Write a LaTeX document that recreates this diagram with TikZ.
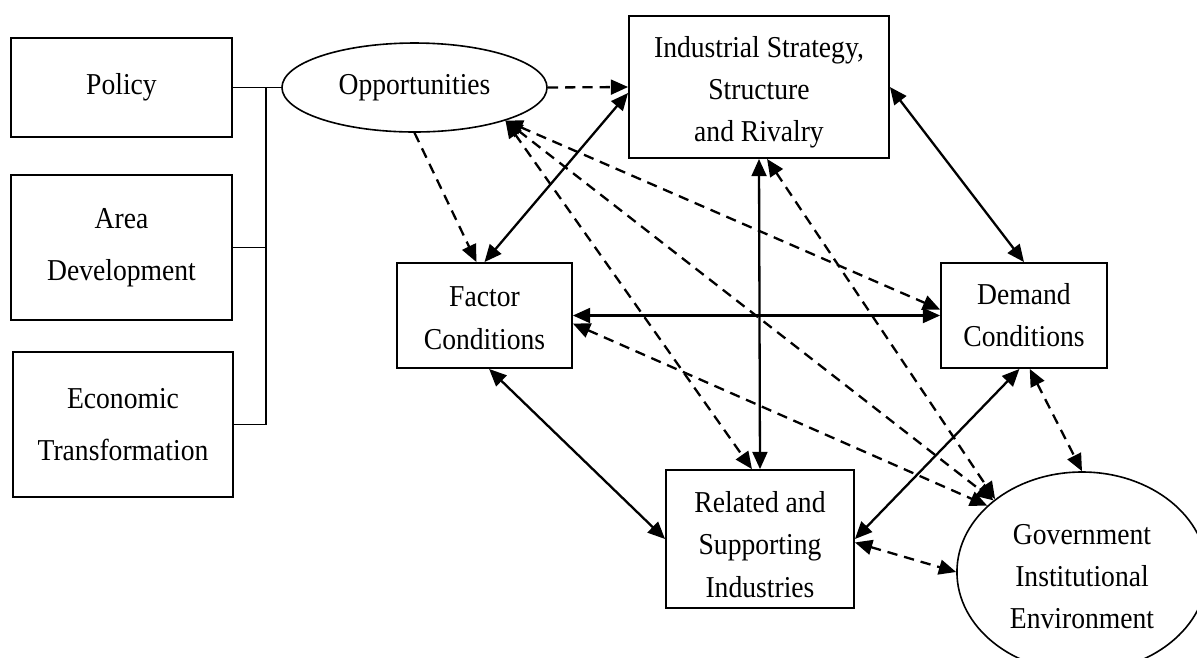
\documentclass[tikz,border=0pt]{standalone}
\usepackage{fontspec}
\setmainfont{Liberation Serif}[FakeStretch=0.91]
\usetikzlibrary{shapes.geometric, arrows.meta, positioning, calc}
\newcommand{\lowstrut}[1]{\rule{0pt}{#1}}

\begin{document}
\begin{tikzpicture}[x=0.435pt, y=-0.435pt,
  box/.style={draw, line width=0.8pt, inner sep=0pt, align=center, font=\fontsize{13.2}{18.3}\selectfont},
  sidebox/.style={box, minimum width=96pt, minimum height=63pt, font=\fontsize{13.2}{22.4}\selectfont},
  oval/.style={draw, ellipse, line width=0.7pt, inner sep=0pt, align=center, font=\fontsize{13.2}{18.3}\selectfont},
  link/.style={line width=1pt, {Triangle[length=7.5pt,width=6.5pt]}-{Triangle[length=7.5pt,width=6.5pt]}},
  dlink/.style={link, dash pattern=on 4.5pt off 3pt},
  dto/.style={line width=1pt, dash pattern=on 4.5pt off 3pt, -{Triangle[length=7.5pt,width=6.5pt]}}]
  \useasboundingbox (0,0) rectangle (1197,657);

  \node[box, minimum width=96pt, minimum height=43pt] (policy) at (121.5,87.5) {Policy};
  \node[sidebox] (area) at (121.5,247.5) {Area\\Development};
  \node[sidebox] (econ) at (123,424.5) {Economic\\Transformation};
  \node[oval, minimum width=115.3pt, minimum height=38.7pt] (opp) at (414.5,87.5) {Opportunities};
  \node[box, minimum width=113.1pt, minimum height=61.8pt] (ind) at (759,87) {\lowstrut{14pt}Industrial Strategy,\\Structure\\and Rivalry};
  \node[box, minimum width=76.1pt, minimum height=45.7pt] (fac) at (484.5,315.5) {\lowstrut{11pt}Factor\\Conditions};
  \node[box, minimum width=72.2pt, minimum height=45.7pt] (dem) at (1024,315.5) {Demand\\Conditions};
  \node[box, minimum width=81.8pt, minimum height=60pt] (rel) at (760,539) {\lowstrut{14pt}Related and\\Supporting\\Industries};
  \node[oval, minimum width=108.8pt, minimum height=87pt] (gov) at (1082,572) {\lowstrut{12.6pt}Government\\Institutional\\Environment};

  \coordinate (brk) at (266,87.5);
  \draw[line width=0.5pt] (policy.east) -- (opp.west);
  \draw[line width=0.5pt] (area.east) -| (brk);
  \draw[line width=0.5pt] (econ.east) -| (brk);

  \draw[link] (fac.north) -- ([yshift=-2.6pt]ind.west);
  \draw[link] (ind.east) -- (dem.north);
  \draw[link] (fac.east) -- (dem.west);
  \draw[link] (ind.south) -- (rel.north);
  \draw[link] ([xshift=2pt]fac.south) -- (rel.west);
  \draw[link] ([xshift=-2pt]dem.south) -- (rel.east);

  \draw[dto] (opp.east) -- (ind.west);
  \draw[dto] (opp.south) -- ([xshift=-3.5pt]fac.north);
  \draw[dlink] (opp.-20) -- ([yshift=2.6pt]dem.west);
  \draw[dlink] (opp.-20) -- (gov.141);
  \draw[dlink] (opp.-20) -- ([xshift=-3.5pt]rel.north);
  \draw[dlink] ([xshift=3.5pt]ind.south) -- (gov.140);
  \draw[dlink] ([yshift=-3.5pt]fac.east) -- (gov.145);
  \draw[dlink] ([xshift=2.5pt]dem.south) -- (gov.north);
  \draw[dlink] ([yshift=-1.5pt]rel.east) -- (gov.west);
\end{tikzpicture}
\end{document}
